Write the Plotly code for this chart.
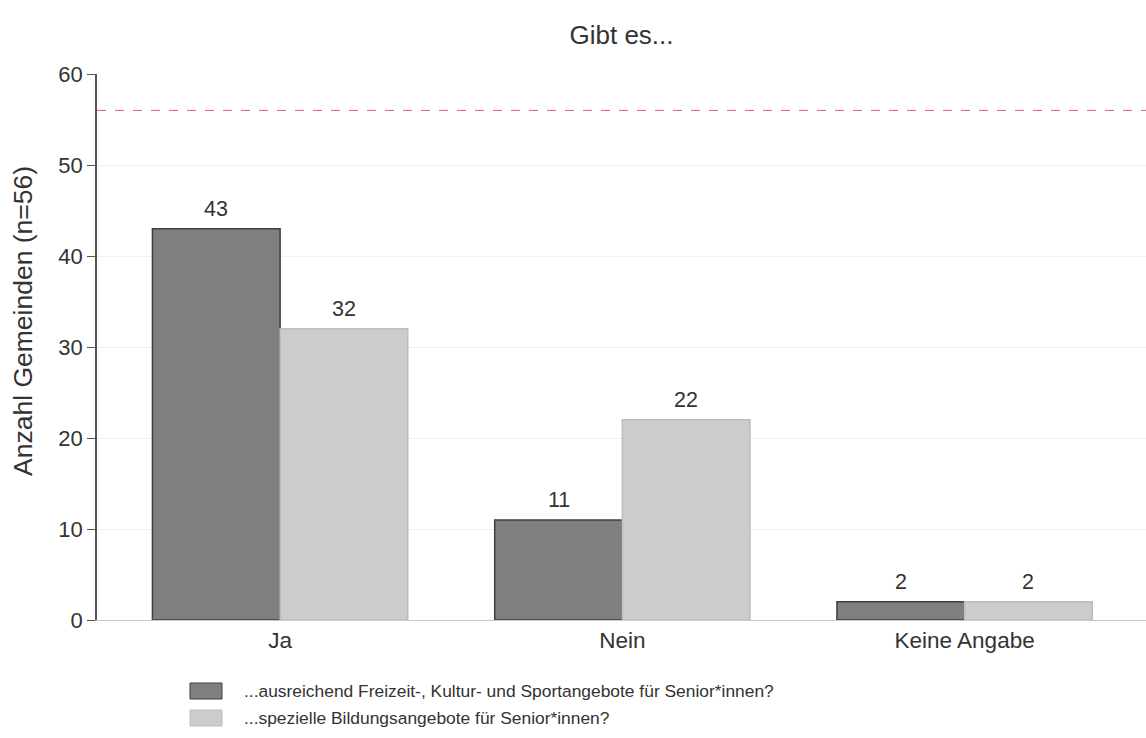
import plotly.graph_objects as go

categories = ["Ja", "Nein", "Keine Angabe"]
freizeit = [43, 11, 2]
bildung = [32, 22, 2]
series_names = [
    "...ausreichend Freizeit-, Kultur- und Sportangebote für Senior*innen?",
    "...spezielle Bildungsangebote für Senior*innen?",
]
total_n = 56
y_ticks = [0, 10, 20, 30, 40, 50, 60]

FONT = "Liberation Sans, Arial, sans-serif"
TEXT = "#333333"
W, H = 1146, 738
L, R, T, B = 97, 0, 74, 118

fill_colors = ["#7f7f7f", "#cccccc"]
edge_colors = ["#3f3f3f", "#bdbdbd"]
positions = list(range(len(categories)))
bargap = 0.254

fig = go.Figure()
for vals, name, fc, ec in zip((freizeit, bildung), series_names, fill_colors, edge_colors):
    fig.add_trace(go.Bar(
        x=positions, y=vals, name=name, showlegend=False,
        marker=dict(color=fc, line=dict(color=ec, width=1.5)),
    ))

# value labels above each bar
half = (1 - bargap) / 4  # offset of each bar centre from its category centre
for vals, sign in ((freizeit, -1), (bildung, 1)):
    for i, v in enumerate(vals):
        fig.add_annotation(
            x=positions[i] + sign * half, y=v, xref="x", yref="y", text=str(v),
            showarrow=False, yanchor="bottom", yshift=6,
            font=dict(family=FONT, size=21.5, color=TEXT),
        )

# reference line at the number of municipalities
fig.add_shape(
    type="line", xref="paper", yref="y", x0=0, x1=1, y0=total_n, y1=total_n,
    line=dict(color="#e06070", width=1, dash="dash"),
)

pw, ph = W - L - R, H - T - B
def px_x(p):
    return (p - L) / pw
def px_y(p):
    return (H - B - p) / ph

# y-axis title, placed a bit above the axis centre
fig.add_annotation(
    xref="paper", yref="paper", x=px_x(23), y=px_y(321),
    xanchor="center", yanchor="middle", textangle=-90,
    text=f"Anzahl Gemeinden (n={total_n})", showarrow=False,
    font=dict(family=FONT, size=26.5, color=TEXT),
)

# legend below the plot: swatch + label per series
for k, (name, fc, ec) in enumerate(zip(series_names, fill_colors, edge_colors)):
    cy = 691 + 27 * k
    fig.add_shape(
        type="rect", xref="paper", yref="paper",
        x0=px_x(190), x1=px_x(222), y0=px_y(cy + 8), y1=px_y(cy - 8),
        fillcolor=fc, line=dict(color=ec, width=1),
    )
    fig.add_annotation(
        xref="paper", yref="paper", x=px_x(242), y=px_y(cy),
        xanchor="left", yanchor="middle", text=name, showarrow=False,
        font=dict(family=FONT, size=17.4, color=TEXT),
    )

fig.update_layout(
    width=W, height=H,
    margin=dict(l=L, r=R, t=T, b=B),
    paper_bgcolor="white", plot_bgcolor="white",
    barmode="group", bargap=bargap, bargroupgap=0,
    font=dict(family=FONT, size=22, color=TEXT),
    showlegend=False,
    title=dict(text="Gibt es...", x=(L + W) / 2 / W, xanchor="center",
               y=1 - 35 / H, yanchor="middle",
               font=dict(family=FONT, size=26, color=TEXT)),
    xaxis=dict(
        range=[-0.535, 2.53],
        tickvals=positions, ticktext=categories,
        showgrid=False, zeroline=False,
        showline=True, linecolor="#c8c8c8", linewidth=1,
        ticks="", tickfont=dict(size=22.5, color=TEXT),
    ),
    yaxis=dict(
        range=[0, 60], tickvals=y_ticks,
        showgrid=True, gridcolor="#f0f0f0", gridwidth=1,
        zeroline=False, showline=True, linecolor="#555555", linewidth=1.5,
        ticks="outside", ticklen=8, tickcolor="#555555",
        tickfont=dict(size=22, color=TEXT),
    ),
)

fig.write_html("out.html")
